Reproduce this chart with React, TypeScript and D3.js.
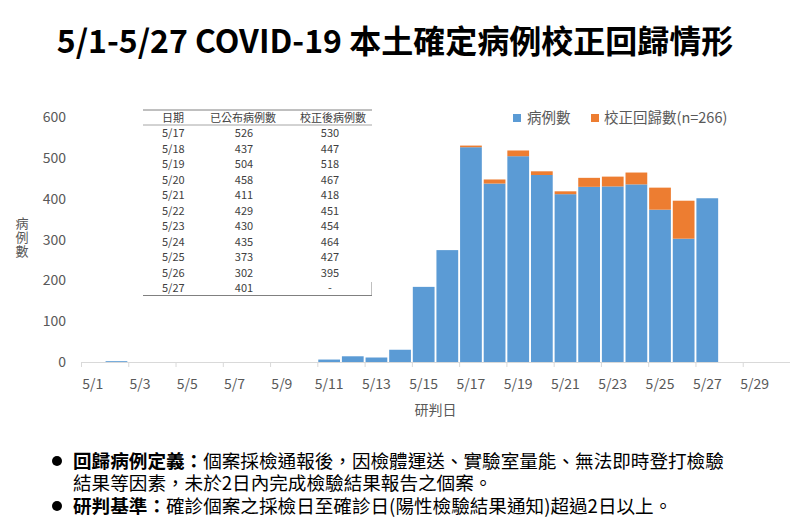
import * as d3 from "d3";

const W = 790;
const H = 527;
const FONT = "'Noto Sans CJK TC', 'Noto Sans', sans-serif";

// categories 5/1 .. 5/30
const dates = d3.range(1, 31).map((d) => `5/${d}`);

// published case counts by 研判日 (0 where nothing is drawn)
const cases = [
  0, 2, 0, 0, 0, 0, 0, 0, 0, 0,
  6, 14, 11, 30, 184, 274, 526, 437, 504, 458,
  411, 429, 430, 435, 373, 302, 401, 0, 0, 0,
];
// backfilled (校正回歸) counts
const backfill = [
  0, 0, 0, 0, 0, 0, 0, 0, 0, 0,
  0, 0, 0, 0, 0, 0, 4, 10, 14, 9,
  7, 22, 24, 29, 54, 93, 0, 0, 0, 0,
];

const yTicks = [0, 100, 200, 300, 400, 500, 600];

// inset table
const tableDates = ["5/17", "5/18", "5/19", "5/20", "5/21", "5/22", "5/23", "5/24", "5/25", "5/26", "5/27"];
const tablePublished = ["526", "437", "504", "458", "411", "429", "430", "435", "373", "302", "401"];
const tableCorrected = ["530", "447", "518", "467", "418", "451", "454", "464", "427", "395", "-"];

const BLUE = "#5B9BD5";
const ORANGE = "#ED7D31";
const AXIS = "#D9D9D9";
const TXT = "#595959";

const MARGIN = { top: 117, right: 0, bottom: 165, left: 81 };

export default function App() {
  const boundsWidth = W - MARGIN.left - MARGIN.right;
  const boundsHeight = H - MARGIN.top - MARGIN.bottom;

  const xScale = d3.scaleBand().domain(dates).range([0, boundsWidth]).paddingInner(0.08).paddingOuter(0.04);
  const xStep = d3.scaleBand().domain(dates).range([0, boundsWidth]);
  const yScale = d3.scaleLinear().domain([0, 600]).range([boundsHeight, 0]);

  const rows = dates.map((d, i) => ({ date: d, cases: cases[i], backfill: backfill[i] }));
  const series = d3.stack<any>().keys(["cases", "backfill"])(rows);
  const colors = [BLUE, ORANGE];

  const bars = series.flatMap((s, si) =>
    s.map((seg, i) => {
      const h = yScale(seg[0]) - yScale(seg[1]);
      if (h <= 0) return null;
      return (
        <rect
          key={`${si}-${i}`}
          x={xScale(dates[i])}
          y={yScale(seg[1])}
          width={xScale.bandwidth()}
          height={Math.max(h, 1)}
          fill={colors[si]}
        />
      );
    })
  );

  const tickDates = dates.filter((_, i) => i % 2 === 0);

  const rowY = (i: number) => 133 + i * 15.5;

  return (
    <svg
      width={W}
      height={H}
      style={{ position: "absolute", left: 0, top: 0, background: "#fff" }}
      fontFamily={FONT}
    >
      <rect width={W} height={H} fill="#fff" />
      <text x={395} y={53} textAnchor="middle" fontSize={32} fontWeight="bold" fill="#000">
        5/1-5/27 COVID-19 本土確定病例校正回歸情形
      </text>

      <g transform={`translate(${MARGIN.left},${MARGIN.top})`}>
        {bars}
        <line x1={0} x2={boundsWidth} y1={boundsHeight + 0.5} y2={boundsHeight + 0.5} stroke={AXIS} />
        {tickDates.map((d) => (
          <line
            key={`t${d}`}
            x1={xStep(d)! + 0.5}
            x2={xStep(d)! + 0.5}
            y1={boundsHeight}
            y2={boundsHeight + 5}
            stroke={AXIS}
          />
        ))}
        {tickDates.map((d) => (
          <text
            key={`l${d}`}
            x={xStep(d)! + xStep.bandwidth() / 2}
            y={boundsHeight + 27}
            textAnchor="middle"
            fontSize={14}
            fill={TXT}
          >
            {d}
          </text>
        ))}
        {yTicks.map((t) => (
          <text key={`y${t}`} x={-15} y={yScale(t) + 5} textAnchor="end" fontSize={14} fill={TXT}>
            {t}
          </text>
        ))}
        <text x={boundsWidth / 2} y={boundsHeight + 53} textAnchor="middle" fontSize={14} fill={TXT}>
          研判日
        </text>
      </g>

      {/* y axis title, stacked characters in one text */}
      <text x={22} y={228} textAnchor="middle" fontSize={13} fill={TXT}>
        {["病", "例", "數"].map((c, i) => (
          <tspan key={c} x={22} dy={i === 0 ? 0 : 14}>
            {c}
          </tspan>
        ))}
      </text>

      {/* legend */}
      <rect x={513} y={114} width={8} height={8} fill={BLUE} />
      <text x={527} y={123} fontSize={14.5} fill={TXT}>病例數</text>
      <rect x={591} y={114} width={8} height={8} fill={ORANGE} />
      <text x={604} y={123} fontSize={14.5} fill={TXT}>校正回歸數(n=266)</text>

      {/* inset table */}
      <g fontSize={11} fill="#404040">
        <line x1={143} x2={372} y1={110} y2={110} stroke="#808080" />
        <line x1={143} x2={372} y1={125} y2={125} stroke="#A6A6A6" />
        <line x1={143} x2={372} y1={295.5} y2={295.5} stroke="#808080" />
        <line x1={371.5} x2={371.5} y1={282} y2={295} stroke="#BFBFBF" />
        <text x={162} y={121.5}>日期</text>
        <text x={243} y={121.5} textAnchor="middle">已公布病例數</text>
        <text x={333} y={121.5} textAnchor="middle">校正後病例數</text>
        {tableDates.map((d, i) => (
          <g key={d}>
            <text x={162} y={rowY(i) + 4}>{d}</text>
            <text x={244} y={rowY(i) + 4} textAnchor="middle">{tablePublished[i]}</text>
            <text x={330} y={rowY(i) + 4} textAnchor="middle">{tableCorrected[i]}</text>
          </g>
        ))}
      </g>

      {/* notes */}
      <g fontSize={18.6} fill="#000">
        <circle cx={57} cy={461} r={5} fill="#000" />
        <text x={73} y={468}>
          <tspan fontWeight="bold">回歸病例定義：</tspan>
          <tspan>個案採檢通報後，因檢體運送、實驗室量能、無法即時登打檢驗</tspan>
          <tspan x={73} dy={22}>結果等因素，未於2日內完成檢驗結果報告之個案。</tspan>
        </text>
        <circle cx={57} cy={506} r={5} fill="#000" />
        <text x={73} y={513}>
          <tspan fontWeight="bold">研判基準：</tspan>
          <tspan>確診個案之採檢日至確診日(陽性檢驗結果通知)超過2日以上。</tspan>
        </text>
      </g>
    </svg>
  );
}
